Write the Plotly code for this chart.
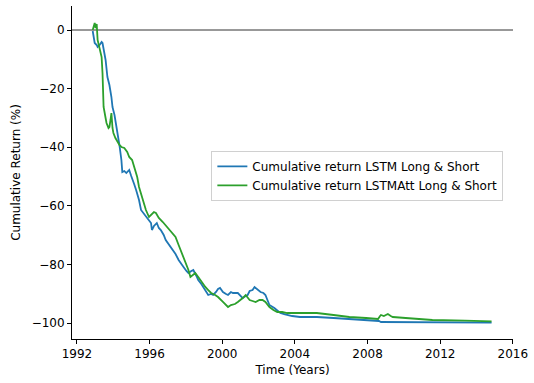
import plotly.graph_objects as go

# Decimal years and cumulative returns (%)
lstm_years = [1992.87, 1992.92, 1992.98, 1993.09, 1993.14, 1993.25, 1993.36, 1993.41, 1993.47, 1993.52,
              1993.58, 1993.68, 1993.79, 1993.90, 1993.96, 1994.07, 1994.12, 1994.23, 1994.34, 1994.45,
              1994.50, 1994.61, 1994.72, 1994.83, 1994.88, 1994.99, 1995.04, 1995.15, 1995.26, 1995.42,
              1995.53, 1995.70, 1995.80, 1995.97, 1996.08, 1996.13, 1996.24, 1996.40, 1996.51, 1996.62,
              1996.78, 1996.89, 1997.05, 1997.22, 1997.43, 1997.60, 1997.76, 1997.87, 1998.03, 1998.14,
              1998.30, 1998.41, 1998.58, 1998.68, 1998.85, 1998.96, 1999.12, 1999.23, 1999.39, 1999.50,
              1999.66, 1999.77, 1999.88, 2000.04, 2000.21, 2000.32, 2000.48, 2000.59, 2000.86, 2001.02,
              2001.13, 2001.29, 2001.40, 2001.51, 2001.67, 2001.78, 2001.84, 2001.95, 2002.11, 2002.27,
              2002.38, 2002.49, 2002.60, 2002.87, 2003.20, 2003.41, 2003.85, 2004.28, 2005.21, 2006.13,
              2007.92, 2008.63, 2008.74, 2010.64, 2014.83]
lstm_returns = [-0.34, -2.05, -4.44, -5.12, -5.80, -5.12, -4.10, -4.44, -6.14, -7.85,
                -10.24, -16.04, -18.77, -22.87, -26.28, -29.01, -30.72, -35.15, -39.25, -44.37,
                -48.46, -48.12, -48.81, -48.12, -47.78, -49.83, -50.51, -52.56, -54.61, -58.02,
                -61.43, -62.80, -63.82, -64.85, -65.87, -68.26, -66.89, -65.87, -67.58, -68.26,
                -69.97, -71.67, -73.04, -74.40, -76.45, -78.50, -80.20, -80.89, -82.25, -82.94,
                -82.25, -81.91, -83.96, -85.32, -86.69, -87.71, -89.42, -90.44, -90.10, -90.44,
                -89.42, -88.40, -88.05, -89.42, -90.10, -90.44, -89.42, -89.76, -89.76, -90.78,
                -91.47, -90.78, -90.44, -89.08, -88.74, -87.71, -88.05, -88.74, -89.42, -89.76,
                -90.44, -92.15, -93.86, -94.88, -96.59, -96.93, -97.61, -97.95, -97.95, -98.29,
                -98.98, -99.32, -99.66, -99.80, -99.90]

att_years = [1992.87, 1992.92, 1992.98, 1993.03, 1993.09, 1993.14, 1993.25, 1993.36, 1993.41, 1993.44,
             1993.47, 1993.58, 1993.63, 1993.74, 1993.79, 1993.85, 1993.90, 1993.96, 1994.01, 1994.12,
             1994.17, 1994.34, 1994.45, 1994.61, 1994.77, 1994.88, 1995.04, 1995.15, 1995.32, 1995.42,
             1995.59, 1995.70, 1995.80, 1995.97, 1996.13, 1996.24, 1996.35, 1996.51, 1996.73, 1996.95,
             1997.16, 1997.43, 1997.60, 1997.71, 1997.76, 1997.87, 1997.98, 1998.14, 1998.25, 1998.41,
             1998.52, 1998.68, 1998.90, 1999.07, 1999.23, 1999.39, 1999.61, 1999.77, 2000.04, 2000.32,
             2000.48, 2000.70, 2000.86, 2001.02, 2001.13, 2001.29, 2001.40, 2001.51, 2001.67, 2001.84,
             2002.05, 2002.22, 2002.38, 2002.60, 2002.82, 2003.03, 2003.30, 2003.58, 2003.96, 2004.28,
             2005.21, 2006.13, 2007.00, 2007.92, 2008.58, 2008.69, 2008.74, 2008.90, 2009.01, 2009.12,
             2009.28, 2009.39, 2010.10, 2011.57, 2013.36, 2014.83]
att_returns = [0.00, 1.37, 2.39, 0.68, 2.05, -3.41, -6.14, -9.22, -14.68, -22.18,
               -26.28, -30.03, -31.74, -33.45, -33.11, -30.72, -28.33, -33.45, -35.15, -36.86,
               -37.54, -39.25, -39.93, -40.27, -41.64, -43.34, -44.37, -46.42, -50.17, -53.58,
               -57.00, -59.04, -61.43, -63.82, -62.80, -62.12, -62.46, -64.16, -65.53, -67.24,
               -68.60, -70.65, -73.38, -75.09, -75.77, -77.82, -79.52, -81.91, -84.30, -83.28,
               -82.94, -84.30, -86.35, -87.71, -88.74, -89.76, -90.44, -91.13, -92.83, -94.54,
               -93.86, -93.52, -92.83, -92.15, -91.47, -90.44, -91.13, -92.15, -92.49, -92.83,
               -92.15, -92.15, -92.83, -94.54, -95.56, -96.25, -96.25, -96.59, -96.59, -96.59,
               -96.59, -97.27, -97.95, -98.29, -98.63, -97.61, -97.27, -97.61, -97.27, -96.93,
               -97.61, -97.95, -98.29, -98.98, -99.20, -99.45]

x_ticks = [1992, 1996, 2000, 2004, 2008, 2012, 2016]
y_ticks = [-100, -80, -60, -40, -20, 0]

FONT = "DejaVu Sans"
FS = 12

fig = go.Figure()
fig.add_trace(go.Scatter(x=lstm_years, y=lstm_returns, mode="lines",
                         name="Cumulative return LSTM Long & Short",
                         line=dict(color="#1f77b4", width=1.8)))
fig.add_trace(go.Scatter(x=att_years, y=att_returns, mode="lines",
                         name="Cumulative return LSTMAtt Long & Short",
                         line=dict(color="#2ca02c", width=1.8)))

fig.add_shape(type="line", xref="paper", x0=0, x1=1, yref="y", y0=0, y1=0,
              line=dict(color="black", width=1), opacity=0.8, layer="below")

axis_common = dict(showgrid=False, zeroline=False, showline=True, linecolor="black",
                   linewidth=1, ticks="outside", ticklen=4, tickwidth=1, tickcolor="black",
                   tickfont=dict(family=FONT, size=FS, color="black"))

fig.update_layout(
    width=534, height=383,
    margin=dict(l=72, r=17, t=6, b=44),
    plot_bgcolor="white", paper_bgcolor="white",
    font=dict(family=FONT, size=FS, color="black"),
    showlegend=True,
    legend=dict(x=0.316, y=0.565, xanchor="left", yanchor="top",
                bgcolor="rgba(255,255,255,0.8)", bordercolor="#d0d0d0", borderwidth=1,
                font=dict(family=FONT, size=FS, color="black"), tracegroupgap=0),
    xaxis=dict(range=[1991.73, 2016.01], tickvals=x_ticks,
               title=dict(text="Time (Years)", font=dict(family=FONT, size=FS), standoff=5),
               **axis_common),
    yaxis=dict(range=[-105.46, 8.19], tickvals=y_ticks,
               title=dict(text="Cumulative Return (%)", font=dict(family=FONT, size=FS), standoff=8),
               **axis_common),
)

fig.write_html("out.html")
